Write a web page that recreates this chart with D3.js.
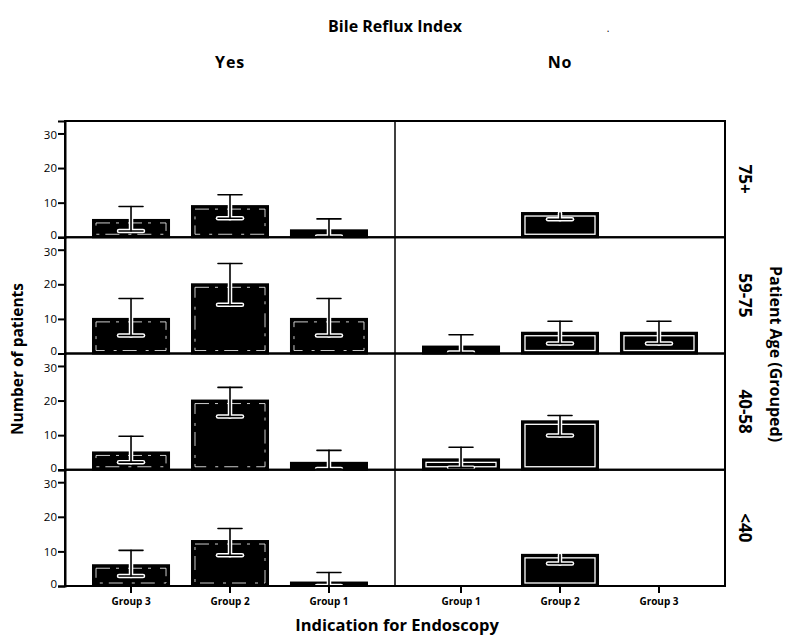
<!DOCTYPE html>
<html>
<head>
<meta charset="utf-8">
<script src="https://cdn.jsdelivr.net/npm/d3@7"></script>
<style>
  body { margin: 0; background: #fff; }
  svg { display: block; font-family: "Open Sans", Lato, sans-serif; }
</style>
</head>
<body>
<svg id="chart" width="789" height="636"></svg>
<script>
// ---- data ----
const ageGroups = ["75+", "59-75", "40-58", "<40"];
const refluxGroups = ["Yes", "No"];
const yesCategories = ["Group 3", "Group 2", "Group 1"];
const noCategories = ["Group 1", "Group 2", "Group 3"];
const yTicks = [0, 10, 20, 30];

// rows: age groups, columns: yesCategories
const countsYes = [[5, 9, 2], [10, 20, 10], [5, 20, 2], [6, 13, 1]];
const upperYes = [[8.9, 12.3, 5.3], [15.9, 26, 15.9], [9.7, 23.8, 5.6], [10.3, 16.6, 3.9]];
const lowerYes = [[1.8, 5.5, 0.2], [5.2, 14.1, 5.2], [2.2, 15.4, 0.2], [2.9, 8.9, 0]];
// rows: age groups, columns: noCategories
const countsNo = [[0, 7, 0], [2, 6, 6], [3, 14, 0], [0, 9, 0]];
const upperNo = [[0, 7, 0], [5.4, 9.3, 9.3], [6.5, 15.7, 0], [0, 9, 0]];
const lowerNo = [[0, 5.2, 0], [0.3, 2.9, 2.9], [0.6, 9.9, 0], [0, 6.5, 0]];

const svg = d3.select("#chart");
const FONT = "'Open Sans', Lato, sans-serif";

const colScale = d3.scaleBand().domain(refluxGroups).range([65, 725]).padding(0);
const rowScale = d3.scaleBand().domain(ageGroups).range([121, 586]).padding(0);
const rowH = rowScale.bandwidth();
const colW = colScale.bandwidth();
const yScale = d3.scaleLinear().domain([0, 33.6]).range([rowH, 0]);

const catsFor = { "Yes": yesCategories, "No": noCategories };
const countsFor = { "Yes": countsYes, "No": countsNo };
const upperFor = { "Yes": upperYes, "No": upperNo };
const lowerFor = { "Yes": lowerYes, "No": lowerNo };

refluxGroups.forEach(rg => {
  const x = d3.scaleBand().domain(catsFor[rg]).range([0, colW])
    .paddingInner(0.232).paddingOuter(0.283);
  ageGroups.forEach((ag, ri) => {
    const g = svg.append("g")
      .attr("transform", `translate(${colScale(rg)},${rowScale(ag)})`);
    const data = catsFor[rg].map((c, ci) => ({
      cat: c,
      v: countsFor[rg][ri][ci],
      hi: upperFor[rg][ri][ci],
      lo: lowerFor[rg][ri][ci]
    })).filter(d => d.v > 0);

    // bars
    g.selectAll("rect.bar").data(data).enter().append("rect")
      .attr("class", "bar")
      .attr("x", d => x(d.cat))
      .attr("y", d => yScale(d.v))
      .attr("width", x.bandwidth())
      .attr("height", d => yScale(0) - yScale(d.v))
      .attr("fill", "#000")
      .attr("stroke", "#000")
      .attr("stroke-width", 2);
    g.selectAll("rect.inner").data(data.filter(d => yScale(0) - yScale(d.v) > 7)).enter().append("rect")
      .attr("class", "inner")
      .attr("x", d => x(d.cat) + 3)
      .attr("y", d => yScale(d.v) + 3)
      .attr("width", x.bandwidth() - 6)
      .attr("height", d => yScale(0) - yScale(d.v) - 6)
      .attr("fill", "none")
      .attr("stroke", "#fff")
      .attr("stroke-width", rg === "No" ? 1.3 : 0.8)
      .attr("stroke-dasharray", rg === "No" ? null : "14 6 3 9");

    // error bars: white halo + black line
    const eb = g.selectAll("g.err").data(data).enter().append("g").attr("class", "err");
    const cx = d => x(d.cat) + x.bandwidth() / 2;
    [["#fff", 4.5], ["#000", 1.6]].forEach(([col, w]) => {
      eb.append("line")
        .attr("x1", cx).attr("x2", cx)
        .attr("y1", d => yScale(d.lo)).attr("y2", d => yScale(d.hi))
        .attr("stroke", col).attr("stroke-width", w).attr("stroke-linecap", "round");
      eb.append("line")
        .attr("x1", d => cx(d) - 12).attr("x2", d => cx(d) + 12)
        .attr("y1", d => yScale(d.lo)).attr("y2", d => yScale(d.lo))
        .attr("stroke", col).attr("stroke-width", w).attr("stroke-linecap", "round");
      eb.filter(d => d.hi > d.v).append("line")
        .attr("x1", d => cx(d) - 12).attr("x2", d => cx(d) + 12)
        .attr("y1", d => yScale(d.hi)).attr("y2", d => yScale(d.hi))
        .attr("stroke", col).attr("stroke-width", w).attr("stroke-linecap", "round");
    });

    // bottom x axis ticks
    if (ri === ageGroups.length - 1) {
      const xa = g.append("g").attr("transform", `translate(0,${rowH})`)
        .call(d3.axisBottom(x).tickSize(7).tickPadding(5));
      xa.select(".domain").remove();
      xa.selectAll(".tick line").attr("stroke", "#000").attr("stroke-width", 2);
      xa.selectAll(".tick text").attr("font-size", 10).attr("font-weight", "bold")
        .attr("fill", "#000").attr("font-family", FONT);
    }
  });
});

// panel borders
ageGroups.forEach(ag => {
  svg.append("rect")
    .attr("x", 65).attr("y", rowScale(ag))
    .attr("width", 660).attr("height", rowH)
    .attr("fill", "none").attr("stroke", "#000").attr("stroke-width", 2);
});
svg.append("line").attr("x1", colScale("No")).attr("x2", colScale("No"))
  .attr("y1", 121).attr("y2", 586).attr("stroke", "#000").attr("stroke-width", 1.5);

// left y axes
ageGroups.forEach(ag => {
  const ya = svg.append("g").attr("transform", `translate(65,${rowScale(ag)})`)
    .call(d3.axisLeft(yScale).tickValues(yTicks).tickSize(7).tickPadding(1));
  ya.select(".domain").attr("stroke", "#000").attr("stroke-width", 2);
  ya.selectAll(".tick line").attr("stroke", "#000").attr("stroke-width", 2);
  ya.selectAll(".tick text").attr("font-size", 11.5).attr("fill", "#000")
    .attr("font-family", FONT)
    .attr("dy", d => d === 0 ? "0.12em" : d === 30 ? "0.47em" : "0.32em");
});

// titles
svg.append("text").attr("x", 395).attr("y", 32).attr("text-anchor", "middle")
  .attr("font-size", 16).attr("font-weight", "bold").text("Bile Reflux Index");
svg.append("text").attr("x", 608).attr("y", 32).attr("text-anchor", "middle")
  .attr("font-size", 10).text(".");
refluxGroups.forEach(rg => {
  svg.append("text").attr("x", colScale(rg) + colW / 2).attr("y", 68)
    .attr("text-anchor", "middle").attr("font-size", 16).attr("font-weight", "bold")
    .attr("letter-spacing", 0.8).text(rg);
});
ageGroups.forEach(ag => {
  svg.append("text")
    .attr("transform", `translate(744,${rowScale(ag) + rowH / 2}) rotate(90)`)
    .attr("text-anchor", "middle").attr("dominant-baseline", "middle")
    .attr("font-size", 17).attr("font-weight", "bold").text(ag);
});
svg.append("text")
  .attr("transform", "translate(774,354) rotate(90)")
  .attr("text-anchor", "middle").attr("dominant-baseline", "middle")
  .attr("font-size", 16).attr("font-weight", "bold").text("Patient Age (Grouped)");
svg.append("text")
  .attr("transform", "translate(19,359) rotate(-90)")
  .attr("text-anchor", "middle").attr("dominant-baseline", "middle")
  .attr("font-size", 15.5).attr("font-weight", "bold").text("Number of patients");
svg.append("text").attr("x", 397).attr("y", 631).attr("text-anchor", "middle")
  .attr("font-size", 16.5).attr("font-weight", "bold").text("Indication for Endoscopy");
</script>
</body>
</html>
